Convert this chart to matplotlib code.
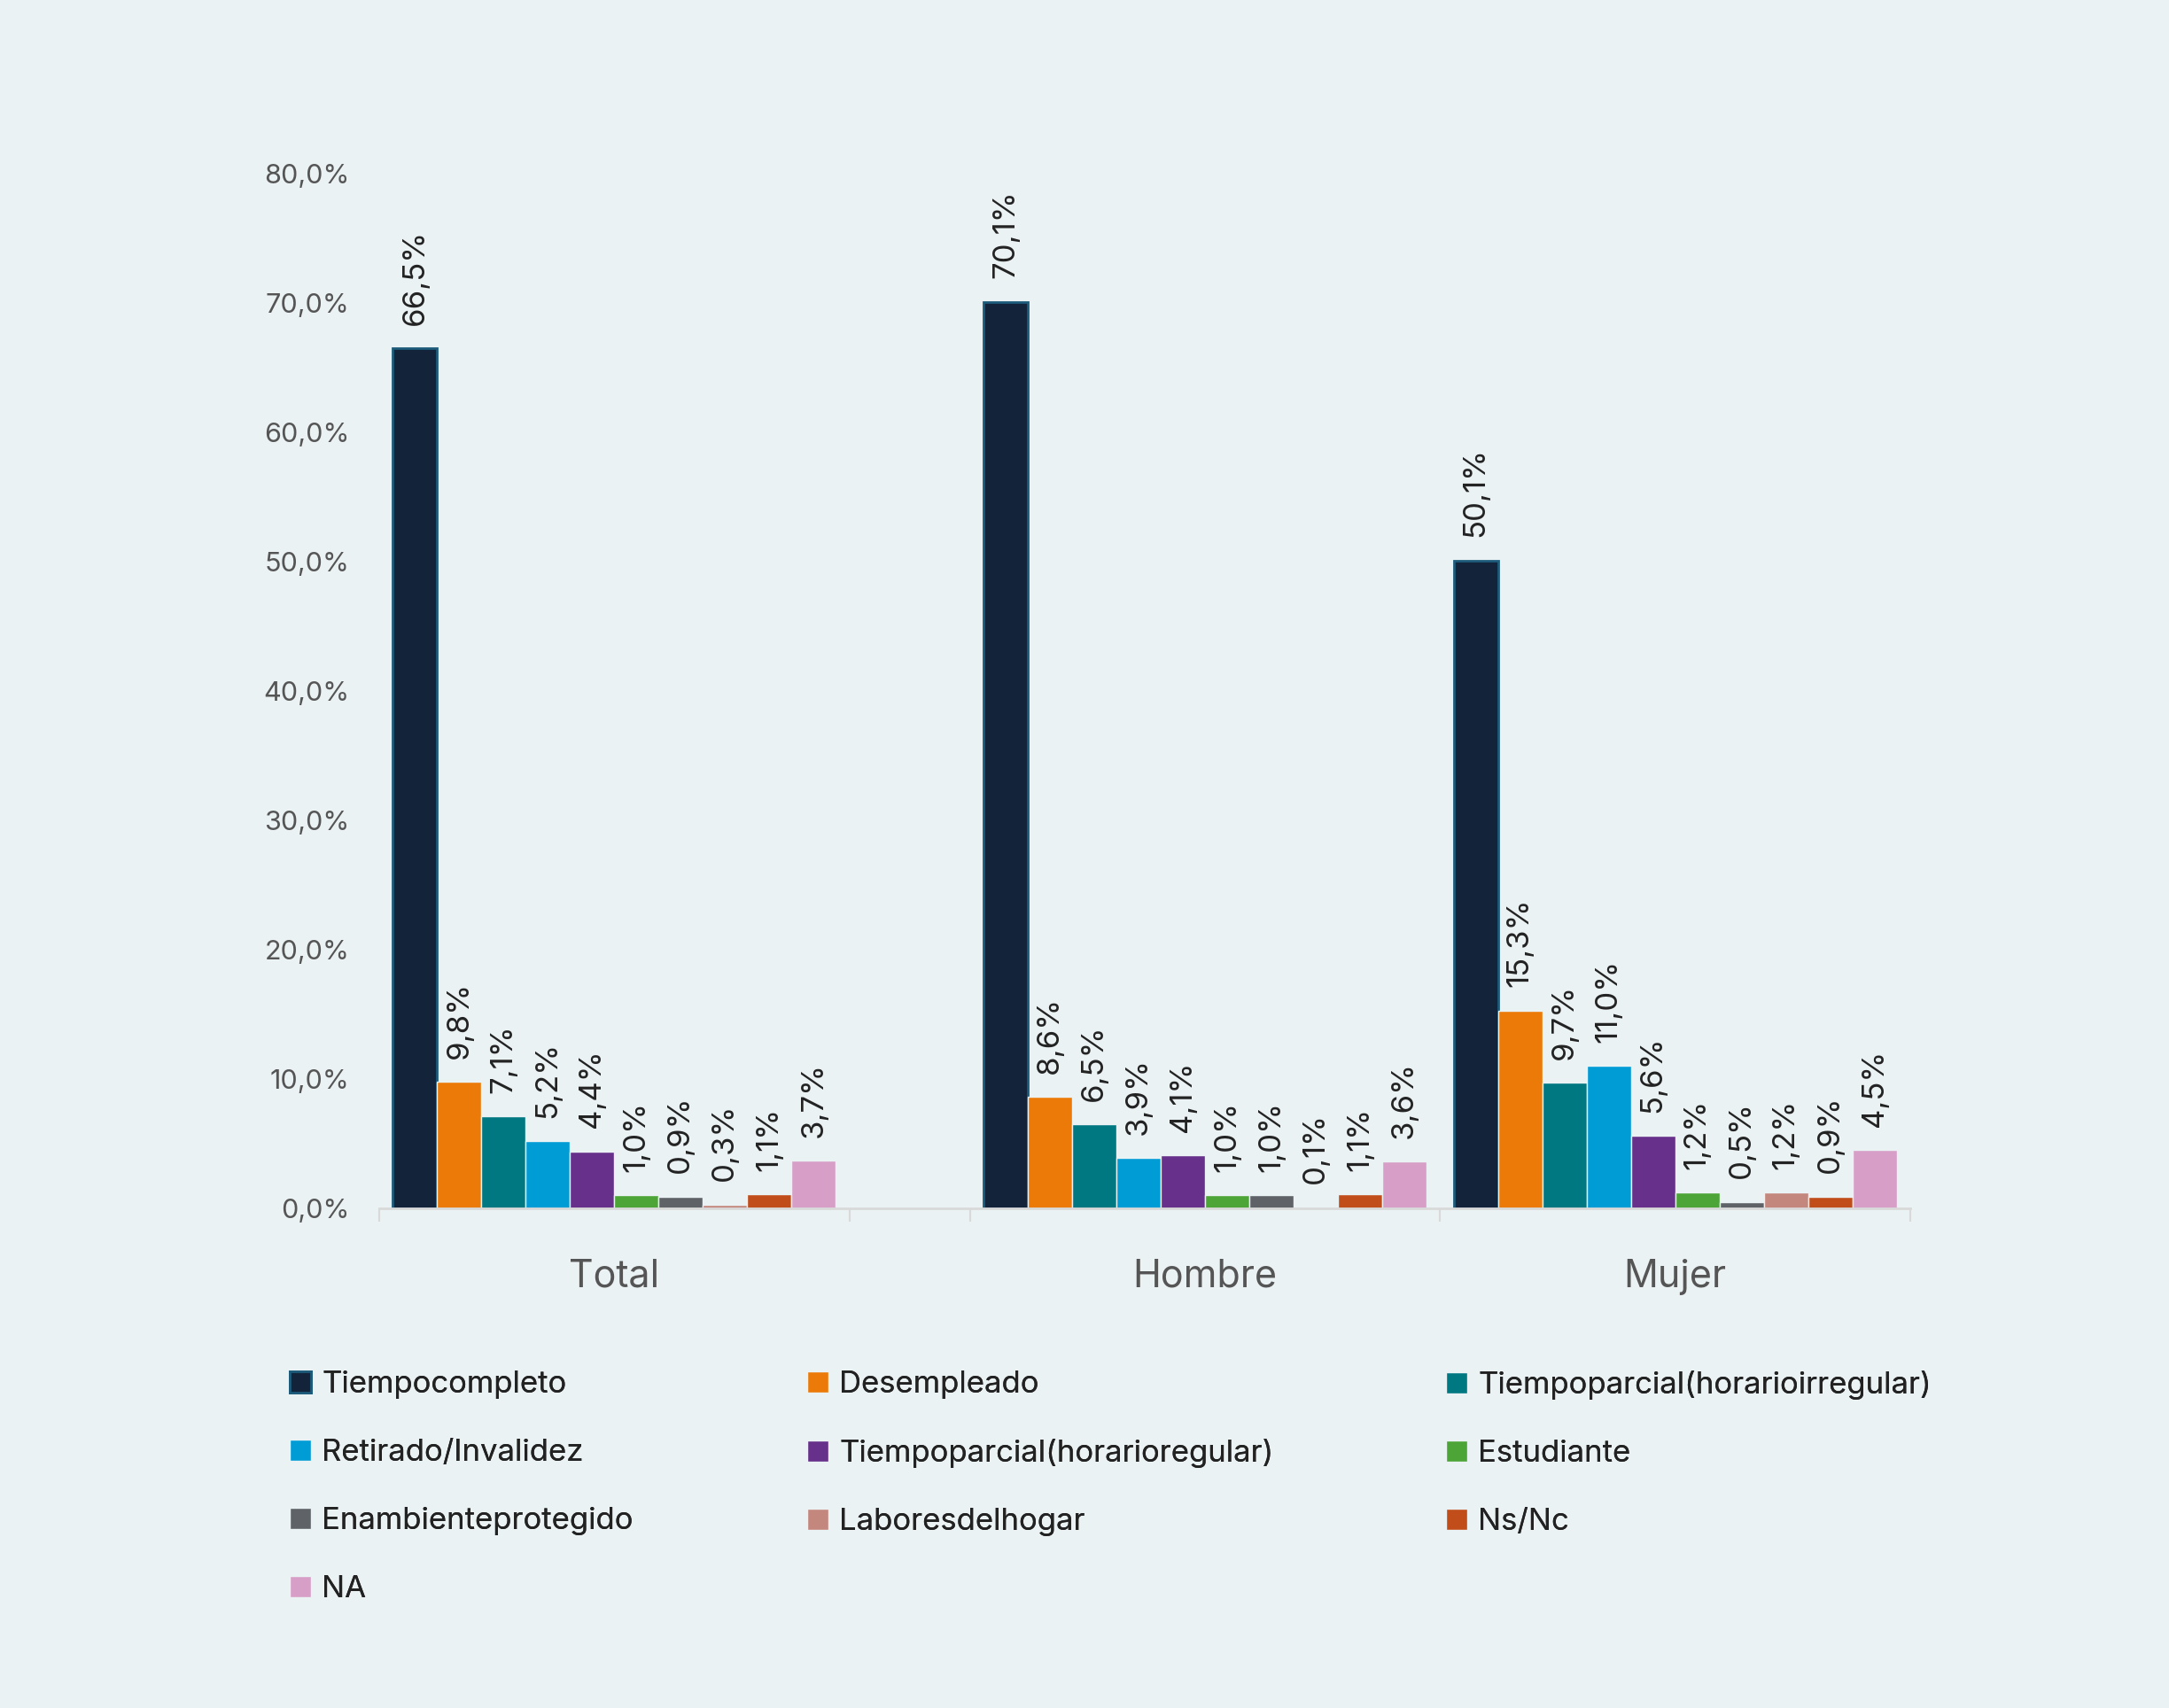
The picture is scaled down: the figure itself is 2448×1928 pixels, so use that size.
import matplotlib
matplotlib.use("Agg")
import matplotlib.pyplot as plt
import numpy as np

groups = ["Total", "Hombre", "Mujer"]
series = ["Tiempocompleto", "Desempleado", "Tiempoparcial(horarioirregular)",
          "Retirado/Invalidez", "Tiempoparcial(horarioregular)", "Estudiante",
          "Enambienteprotegido", "Laboresdelhogar", "Ns/Nc", "NA"]
total = [66.5, 9.8, 7.1, 5.2, 4.4, 1.0, 0.9, 0.3, 1.1, 3.7]
hombre = [70.1, 8.6, 6.5, 3.9, 4.1, 1.0, 1.0, 0.1, 1.1, 3.6]
mujer = [50.1, 15.3, 9.7, 11.0, 5.6, 1.2, 0.5, 1.2, 0.9, 4.5]
yticks = [0, 10, 20, 30, 40, 50, 60, 70, 80]

colors = ["#12233A", "#EC7A08", "#007882", "#009CD6", "#67318B",
          "#4DA538", "#5F6368", "#C4877D", "#C14E1A", "#D79FC8"]
BG = "#EBF2F4"

plt.rcParams['font.family'] = ['Inter', 'DejaVu Sans']

fig = plt.figure(figsize=(24.48, 19.28), dpi=100, facecolor=BG)
ax = fig.add_axes([428/2448, (1928-1364)/1928, 1728/2448, (1364-196)/1928])
ax.set_facecolor(BG)

# layout: three category slots, with a narrow empty slot between Total and Hombre
separators = [0.0, 1.0, 1.256, 2.256, 3.256]
centers = [0.5, 1.756, 2.756]
n = len(series)
slot = 0.942 / n

data = np.array([total, hombre, mujer])
for i, name in enumerate(series):
    xs = [c - 0.471 + slot * (i + 0.5) for c in centers]
    vals = data[:, i]
    if i == 0:
        ec, lw = "#1D5B7A", 2.0
    else:
        ec, lw = BG, 1.0
    bars = ax.bar(xs, vals, width=slot, color=colors[i], edgecolor=ec,
                  linewidth=lw, label=name, zorder=2)
    for b, v in zip(bars, vals):
        ax.annotate(f"{v:.1f}%".replace('.', ','),
                    (b.get_x() + b.get_width() / 2, b.get_height()),
                    xytext=(0, 19), textcoords="offset points",
                    ha="center", va="bottom", rotation=90,
                    fontsize=25, color="#222222")

ax.set_ylim(0, 80)
ax.set_xlim(separators[0], separators[-1])
ax.set_yticks(yticks)
ax.set_yticklabels([f"{t:.1f}%".replace('.', ',') for t in yticks])
ax.tick_params(axis='y', length=0, labelsize=22, labelcolor="#555555", pad=24)
ax.set_xticks(centers)
ax.set_xticklabels(groups)
ax.tick_params(axis='x', which='major', length=0, labelsize=31,
               labelcolor="#555555", pad=41)
ax.set_xticks(separators, minor=True)
ax.tick_params(axis='x', which='minor', length=11, width=1.5, color="#D9D9D9")
for s in ["left", "top", "right"]:
    ax.spines[s].set_visible(False)
ax.spines["bottom"].set_color("#D9D9D9")
ax.spines["bottom"].set_linewidth(2)

handles, labels = ax.get_legend_handles_labels()
col_x = [327, 911, 1632]
cols = [[0, 3, 6, 9], [1, 4, 7], [2, 5, 8]]
for cx, idx in zip(col_x, cols):
    leg = fig.legend([handles[k] for k in idx], [labels[k] for k in idx],
                     loc="upper left", bbox_to_anchor=(cx/2448, (1928-1547)/1928),
                     frameon=False, fontsize=25, handlelength=0.7,
                     handleheight=0.7, handletextpad=0.35, labelspacing=1.3,
                     borderpad=0, borderaxespad=0, labelcolor="#222222")
    fig.add_artist(leg)

fig.savefig("out.png", dpi=100, facecolor=BG)
